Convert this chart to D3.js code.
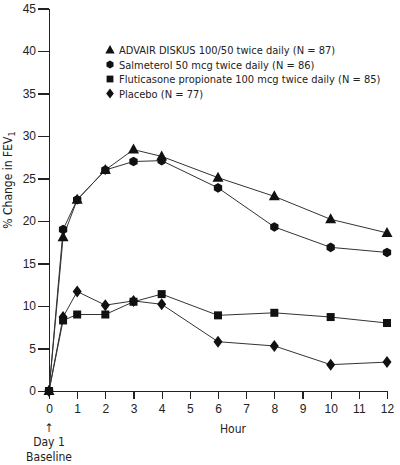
<!DOCTYPE html>
<html lang="en">
<head>
  <meta charset="UTF-8">
  <title>% Change in FEV1 over 12 hours</title>
  <script src="https://d3js.org/d3.v7.min.js"></script>
  <style>
    body { margin: 0; background: #fff; }
    svg { display: block; background: #fff; }
    .axis path, .axis line { stroke: #222; stroke-width: 1.2; shape-rendering: crispEdges; }
    .axis text { font-family: "Liberation Sans", Arial, sans-serif; font-size: 12px; fill: #222; }
    .lbl { font-family: "DejaVu Sans Condensed", sans-serif; font-size: 12px; fill: #222; }
    .legend-text { font-family: "DejaVu Sans Condensed", sans-serif; font-size: 11px; fill: #222; }
    .series { fill: none; stroke: #333; stroke-width: 1; }
  </style>
</head>
<body>
<script>
  // Hours after dosing
  const hours = [0, 0.5, 1, 2, 3, 4, 6, 8, 10, 12];
  // Mean % change in FEV1 per treatment group
  const advair      = [0, 18.1, 22.5, 26.0, 28.4, 27.6, 25.1, 22.9, 20.2, 18.6];
  const salmeterol  = [0, 19.0, 22.5, 26.0, 27.0, 27.1, 23.9, 19.3, 16.9, 16.3];
  const fluticasone = [0, 8.3, 9.0, 9.0, 10.5, 11.4, 8.9, 9.2, 8.7, 8.0];
  const placebo     = [0, 8.7, 11.7, 10.1, 10.6, 10.2, 5.8, 5.3, 3.1, 3.4];

  const seriesLabels = [
    "ADVAIR DISKUS 100/50 twice daily (N = 87)",
    "Salmeterol 50 mcg twice daily (N = 86)",
    "Fluticasone propionate 100 mcg twice daily (N = 85)",
    "Placebo (N = 77)"
  ];
  const seriesValues = [advair, salmeterol, fluticasone, placebo];
  const seriesSymbols = ["triangle", "hexagon", "square", "diamond"];

  const xTicks = [0, 1, 2, 3, 4, 5, 6, 7, 8, 9, 10, 11, 12];
  const yTicks = [0, 5, 10, 15, 20, 25, 30, 35, 40, 45];

  const width = 400, height = 465;
  const margin = { top: 8.5, right: 13, bottom: 74, left: 49 };

  const x = d3.scaleLinear().domain([0, 12]).range([margin.left, width - margin.right]);
  const y = d3.scaleLinear().domain([0, 45]).range([height - margin.bottom, margin.top]);

  const svg = d3.select("body").append("svg")
    .attr("width", width)
    .attr("height", height);

  // symbol shapes drawn as paths centred on 0,0
  function symbolPath(kind) {
    if (kind === "triangle") return "M0,-6L5.5,4L-5.5,4Z";
    if (kind === "square") return "M-4,-4H4V4H-4Z";
    if (kind === "diamond") return "M0,-6L4.5,0L0,6L-4.5,0Z";
    // hexagon
    const r = 4.8;
    return "M" + d3.range(6).map(i => {
      const a = Math.PI / 6 + i * Math.PI / 3;
      return [r * Math.cos(a), r * Math.sin(a)].join(",");
    }).join("L") + "Z";
  }

  // axes
  svg.append("g")
    .attr("class", "axis")
    .attr("transform", `translate(${margin.left},0)`)
    .call(d3.axisLeft(y).tickValues(yTicks).tickSize(11).tickPadding(2).tickSizeOuter(0));

  svg.append("g")
    .attr("class", "axis")
    .attr("transform", `translate(0,${y(0)})`)
    .call(d3.axisBottom(x).tickValues(xTicks).tickSize(8).tickPadding(5).tickSizeOuter(0));

  // lines
  const line = d3.line().x((d, i) => x(hours[i])).y(d => y(d));

  seriesValues.forEach(vals => {
    svg.append("path")
      .datum(vals)
      .attr("class", "series")
      .attr("d", line);
  });

  seriesValues.forEach((vals, k) => {
    svg.append("g").selectAll("path")
      .data(vals)
      .join("path")
      .attr("transform", (d, i) => `translate(${x(hours[i])},${y(d)})`)
      .attr("d", symbolPath(seriesSymbols[k]))
      .attr("fill", "#111");
  });

  // legend
  const legend = svg.append("g").attr("transform", "translate(110,50)");
  seriesLabels.forEach((lab, i) => {
    const row = legend.append("g").attr("transform", `translate(0,${i * 14.5})`);
    row.append("path")
      .attr("d", symbolPath(seriesSymbols[i]))
      .attr("transform", "scale(0.85)")
      .attr("fill", "#111");
    row.append("text")
      .attr("class", "legend-text")
      .attr("x", 9)
      .attr("y", 4)
      .text(lab);
  });

  // axis titles
  svg.append("text")
    .attr("class", "lbl")
    .attr("transform", `translate(12,180) rotate(-90)`)
    .attr("text-anchor", "middle")
    .html('% Change in FEV<tspan dy="3" font-size="9">1</tspan>');

  svg.append("text")
    .attr("class", "lbl")
    .attr("x", 233)
    .attr("y", 433)
    .attr("text-anchor", "middle")
    .text("Hour");

  const base = svg.append("g").attr("text-anchor", "middle");
  base.append("text").attr("class", "lbl").attr("x", x(0)).attr("y", 432).text("\u2191");
  base.append("text").attr("class", "lbl").attr("x", x(0)).attr("y", 446).text("Day 1");
  base.append("text").attr("class", "lbl").attr("x", x(0)).attr("y", 461).text("Baseline");
</script>
</body>
</html>
